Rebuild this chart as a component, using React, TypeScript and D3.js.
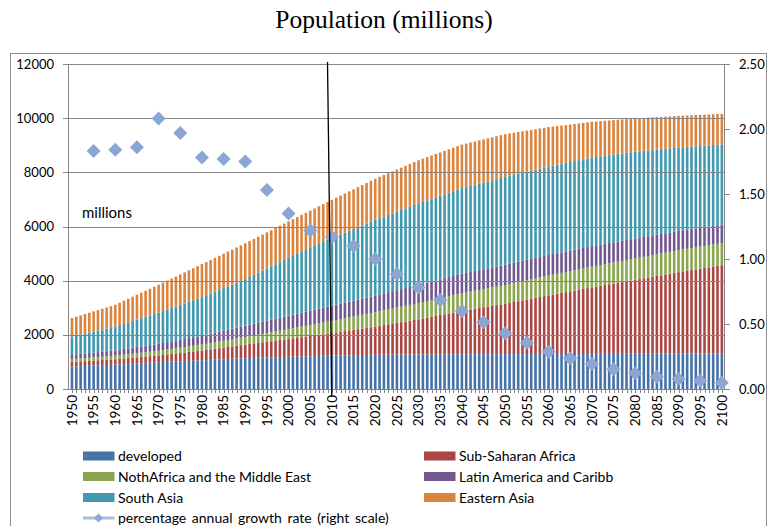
import * as d3 from "d3";

const width = 768;
const height = 526;

const years = d3.range(1950, 2101);

// millions, one value per year 1950..2100
const developed = [
  830, 837, 844, 851, 858, 865, 872, 879, 886, 893,
  900, 909, 918, 927, 936, 945, 954, 963, 972, 981,
  990, 997, 1004, 1011, 1018, 1025, 1032, 1039, 1046, 1053,
  1060, 1068, 1076, 1084, 1092, 1100, 1108, 1116, 1124, 1132,
  1140, 1145, 1150, 1155, 1160, 1165, 1170, 1175, 1180, 1185,
  1190, 1195, 1199, 1204, 1208, 1213, 1217, 1222, 1226, 1231,
  1235, 1238, 1241, 1244, 1247, 1250, 1253, 1256, 1259, 1262,
  1265, 1266, 1267, 1268, 1269, 1270, 1271, 1272, 1273, 1274,
  1275, 1276, 1277, 1278, 1279, 1280, 1281, 1282, 1283, 1284,
  1285, 1285, 1286, 1286, 1287, 1287, 1288, 1288, 1289, 1289,
  1290, 1290, 1290, 1290, 1290, 1290, 1290, 1290, 1290, 1290,
  1290, 1290, 1291, 1291, 1292, 1292, 1293, 1293, 1294, 1294,
  1295, 1295, 1296, 1296, 1297, 1297, 1298, 1298, 1299, 1299,
  1300, 1300, 1301, 1301, 1302, 1302, 1303, 1303, 1304, 1304,
  1305, 1305, 1306, 1306, 1307, 1307, 1308, 1308, 1309, 1309,
  1310,
];
const subSaharan = [
  170, 173, 176, 179, 182, 185, 188, 191, 194, 197,
  200, 205, 210, 215, 220, 225, 230, 235, 240, 245,
  250, 261, 272, 283, 294, 305, 316, 327, 338, 349,
  360, 374, 388, 402, 416, 430, 444, 458, 472, 486,
  500, 516, 532, 548, 564, 580, 596, 612, 628, 644,
  660, 677, 694, 711, 728, 745, 762, 779, 796, 813,
  830, 851, 872, 893, 914, 935, 956, 977, 998, 1019,
  1040, 1066, 1092, 1118, 1144, 1170, 1196, 1222, 1248, 1274,
  1300, 1330, 1360, 1390, 1420, 1450, 1480, 1510, 1540, 1570,
  1600, 1626, 1652, 1678, 1704, 1730, 1756, 1782, 1808, 1834,
  1860, 1891, 1922, 1953, 1984, 2015, 2046, 2077, 2108, 2139,
  2170, 2199, 2228, 2257, 2286, 2315, 2344, 2373, 2402, 2431,
  2460, 2487, 2514, 2541, 2568, 2595, 2622, 2649, 2676, 2703,
  2730, 2758, 2786, 2814, 2842, 2870, 2898, 2926, 2954, 2982,
  3010, 3035, 3060, 3085, 3110, 3135, 3160, 3185, 3210, 3235,
  3260,
];
const northAfricaME = [
  105, 108, 110, 113, 115, 118, 120, 123, 125, 128,
  130, 134, 138, 142, 146, 150, 154, 158, 162, 166,
  170, 175, 180, 185, 190, 195, 200, 205, 210, 215,
  220, 226, 232, 238, 244, 250, 256, 262, 268, 274,
  280, 288, 296, 304, 312, 320, 328, 336, 344, 352,
  360, 369, 378, 387, 396, 405, 414, 423, 432, 441,
  450, 458, 466, 474, 482, 490, 498, 506, 514, 522,
  530, 537, 544, 551, 558, 565, 572, 579, 586, 593,
  600, 605, 610, 615, 620, 625, 630, 635, 640, 645,
  650, 654, 658, 662, 666, 670, 674, 678, 682, 686,
  690, 694, 698, 702, 706, 710, 714, 718, 722, 726,
  730, 733, 736, 739, 742, 745, 748, 751, 754, 757,
  760, 763, 766, 769, 772, 775, 778, 781, 784, 787,
  790, 792, 794, 796, 798, 800, 802, 804, 806, 808,
  810, 811, 812, 813, 814, 815, 816, 817, 818, 819,
  820,
];
const latinAmerica = [
  150, 155, 160, 165, 170, 175, 180, 185, 190, 195,
  200, 206, 212, 218, 224, 230, 236, 242, 248, 254,
  260, 267, 274, 281, 288, 295, 302, 309, 316, 323,
  330, 339, 348, 357, 366, 375, 384, 393, 402, 411,
  420, 428, 436, 444, 452, 460, 468, 476, 484, 492,
  500, 506, 512, 518, 524, 530, 536, 542, 548, 554,
  560, 566, 572, 578, 584, 590, 596, 602, 608, 614,
  620, 625, 630, 635, 640, 645, 650, 655, 660, 665,
  670, 675, 680, 685, 690, 695, 700, 705, 710, 715,
  720, 723, 726, 729, 732, 735, 738, 741, 744, 747,
  750, 751, 752, 753, 754, 755, 756, 757, 758, 759,
  760, 760, 760, 760, 760, 760, 760, 760, 760, 760,
  760, 758, 756, 754, 752, 750, 748, 746, 744, 742,
  740, 737, 734, 731, 728, 725, 722, 719, 716, 713,
  710, 707, 704, 701, 698, 695, 692, 689, 686, 683,
  680,
];
const southAsia = [
  685, 705, 724, 744, 763, 783, 802, 822, 841, 861,
  880, 907, 934, 961, 988, 1015, 1042, 1069, 1096, 1123,
  1150, 1177, 1204, 1231, 1258, 1285, 1312, 1339, 1366, 1393,
  1420, 1450, 1480, 1510, 1540, 1570, 1600, 1630, 1660, 1690,
  1720, 1761, 1802, 1843, 1884, 1925, 1966, 2007, 2048, 2089,
  2130, 2167, 2204, 2241, 2278, 2315, 2352, 2389, 2426, 2463,
  2500, 2529, 2558, 2587, 2616, 2645, 2674, 2703, 2732, 2761,
  2790, 2812, 2834, 2856, 2878, 2900, 2922, 2944, 2966, 2988,
  3010, 3025, 3040, 3055, 3070, 3085, 3100, 3115, 3130, 3145,
  3160, 3168, 3176, 3184, 3192, 3200, 3208, 3216, 3224, 3232,
  3240, 3243, 3246, 3249, 3252, 3255, 3258, 3261, 3264, 3267,
  3270, 3270, 3270, 3270, 3270, 3270, 3270, 3270, 3270, 3270,
  3270, 3263, 3256, 3249, 3242, 3235, 3228, 3221, 3214, 3207,
  3200, 3188, 3176, 3164, 3152, 3140, 3128, 3116, 3104, 3092,
  3080, 3068, 3056, 3044, 3032, 3020, 3008, 2996, 2984, 2972,
  2960,
];
const easternAsia = [
  680, 692, 704, 716, 728, 740, 752, 764, 776, 788,
  800, 823, 846, 869, 892, 915, 938, 961, 984, 1007,
  1030, 1049, 1068, 1087, 1106, 1125, 1144, 1163, 1182, 1201,
  1220, 1230, 1240, 1250, 1260, 1270, 1280, 1290, 1300, 1310,
  1320, 1323, 1326, 1329, 1332, 1335, 1338, 1341, 1344, 1347,
  1350, 1356, 1362, 1368, 1374, 1380, 1386, 1392, 1398, 1404,
  1410, 1421, 1432, 1443, 1454, 1465, 1476, 1487, 1498, 1509,
  1520, 1527, 1534, 1541, 1548, 1555, 1562, 1569, 1576, 1583,
  1590, 1592, 1594, 1596, 1598, 1600, 1602, 1604, 1606, 1608,
  1610, 1607, 1604, 1601, 1598, 1595, 1592, 1589, 1586, 1583,
  1580, 1567, 1554, 1541, 1528, 1515, 1502, 1489, 1476, 1463,
  1450, 1437, 1424, 1411, 1398, 1385, 1372, 1359, 1346, 1333,
  1320, 1311, 1302, 1293, 1284, 1275, 1266, 1257, 1248, 1239,
  1230, 1224, 1218, 1212, 1206, 1200, 1194, 1188, 1182, 1176,
  1170, 1166, 1162, 1158, 1154, 1150, 1146, 1142, 1138, 1134,
  1130,
];

const growthYears = [
  1955, 1960, 1965, 1970, 1975, 1980, 1985, 1990, 1995, 2000,
  2005, 2010, 2015, 2020, 2025, 2030, 2035, 2040, 2045, 2050,
  2055, 2060, 2065, 2070, 2075, 2080, 2085, 2090, 2095, 2100,
];
const growthRate = [
  1.83, 1.84, 1.86, 2.08, 1.97, 1.78, 1.77, 1.75, 1.53, 1.35,
  1.22, 1.17, 1.1, 1.0, 0.885, 0.78, 0.685, 0.6, 0.513, 0.428,
  0.356, 0.287, 0.236, 0.192, 0.151, 0.121, 0.095, 0.077, 0.064, 0.049,
];

const seriesNames = [
  "developed",
  "Sub-Saharan Africa",
  "NothAfrica and the Middle East",
  "Latin America and Caribb",
  "South Asia",
  "Eastern Asia",
];
const seriesColors = ["#4572A7", "#AA4643", "#89A54E", "#71588F", "#4198AF", "#DB843D"];
const leftTicks = [0, 2000, 4000, 6000, 8000, 10000, 12000];
const rightTicks = [0, 0.5, 1, 1.5, 2, 2.5];

const font = "Lato, 'Open Sans', sans-serif";

export default function App() {
  const keys = ["developed", "ssa", "name", "lat", "sa", "ea"];
  const cols = [developed, subSaharan, northAfricaME, latinAmerica, southAsia, easternAsia];
  const rows = years.map((yr, i) => {
    const r: any = { year: yr };
    keys.forEach((k, j) => (r[k] = cols[j][i]));
    return r;
  });
  const stacked = d3.stack().keys(keys)(rows);

  const x = d3.scaleBand<number>().domain(years).range([69.8, 724]);
  const bw = x.bandwidth();
  const barW = bw * 0.6;
  const cx = (yr: number) => (x(yr) as number) + bw / 2;
  const yL = d3.scaleLinear().domain([0, 12000]).range([389, 64]);
  const yR = d3.scaleLinear().domain([0, 2.5]).range([389, 64]);

  const diamond = (r: number) => `M0,${-r}L${r},0L0,${r}L${-r},0Z`;
  const labelYears = years.filter((y) => y % 5 === 0);

  const legend = [
    { i: 0, x: 83, y: 456 },
    { i: 1, x: 424, y: 456 },
    { i: 2, x: 83, y: 476.5 },
    { i: 3, x: 424, y: 476.5 },
    { i: 4, x: 83, y: 497.5 },
    { i: 5, x: 424, y: 497.5 },
  ];

  return (
    <svg
      width={width}
      height={height}
      style={{ position: "absolute", left: 0, top: 0, background: "#fff" }}
    >
      <text
        x={384}
        y={28}
        textAnchor="middle"
        fontFamily="'Liberation Serif', 'Times New Roman', serif"
        fontSize={25.5}
      >
        Population (millions)
      </text>
      <rect x={10.5} y={53.5} width={756} height={490} fill="none" stroke="#8c8c8c" />

      {stacked.map((s, si) => (
        <g key={si} fill={seriesColors[si]}>
          {s.map((d, i) => (
            <rect
              key={i}
              x={cx(years[i]) - barW / 2}
              y={yL(d[1])}
              width={barW}
              height={yL(d[0]) - yL(d[1])}
            />
          ))}
        </g>
      ))}

      {leftTicks.map((t) => (
        <g key={t}>
          <line x1={63} x2={724} y1={Math.round(yL(t)) + 0.5} y2={Math.round(yL(t)) + 0.5} stroke="#868686" />
          <text x={54} y={yL(t) + 4.5} textAnchor="end" fontFamily={font} fontSize={13}>
            {t}
          </text>
        </g>
      ))}
      <line x1={68.5} x2={68.5} y1={64} y2={389} stroke="#868686" />
      <line x1={724.5} x2={724.5} y1={64} y2={389} stroke="#868686" />
      {rightTicks.map((t) => (
        <g key={t}>
          <line x1={724} x2={730} y1={Math.round(yR(t)) + 0.5} y2={Math.round(yR(t)) + 0.5} stroke="#868686" />
          <text x={739} y={yR(t) + 4.5} fontFamily={font} fontSize={13}>
            {t.toFixed(2)}
          </text>
        </g>
      ))}
      {years.map((yr) => (
        <line
          key={yr}
          x1={Math.round(cx(yr)) + 0.5}
          x2={Math.round(cx(yr)) + 0.5}
          y1={389}
          y2={393}
          stroke="#868686"
        />
      ))}
      {labelYears.map((yr) => (
        <text
          key={yr}
          transform={`translate(${cx(yr) + 4.8},395) rotate(-90)`}
          textAnchor="end"
          fontFamily={font}
          fontSize={13.5}
        >
          {yr}
        </text>
      ))}

      <text x={82} y={218} fontFamily={font} fontSize={15}>
        millions
      </text>

      {growthYears.map((yr, i) => (
        <path
          key={yr}
          d={diamond(7)}
          transform={`translate(${cx(yr)},${yR(growthRate[i])})`}
          fill="#8CA5D3"
        />
      ))}

      <line x1={327.5} y1={62} x2={331.8} y2={397} stroke="#000" strokeWidth={1.3} />

      {legend.map((l) => (
        <g key={l.i}>
          <rect x={l.x} y={l.y - 4.5} width={31.5} height={9} fill={seriesColors[l.i]} />
          <text x={l.x + 35} y={l.y + 5} fontFamily={font} fontSize={14}>
            {seriesNames[l.i]}
          </text>
        </g>
      ))}
      <line x1={83} x2={114.5} y1={518} y2={518} stroke="#A9BDE0" strokeWidth={3} />
      <path d={diamond(4.5)} transform="translate(98.5,518)" fill="#8CA5D3" />
      <text x={118} y={523} fontFamily={font} fontSize={14} wordSpacing={2}>
        percentage annual growth rate (right scale)
      </text>
    </svg>
  );
}
